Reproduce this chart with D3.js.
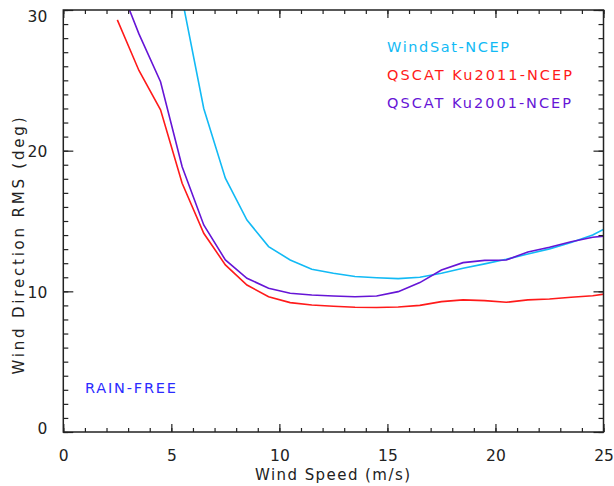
<!DOCTYPE html>
<html><head><meta charset="utf-8">
<script src="https://cdn.jsdelivr.net/npm/d3@7"></script>
<style>body{margin:0;background:#fff}svg{display:block}text{font-family:"DejaVu Sans",sans-serif;font-weight:normal}</style>
</head><body><svg id="c" width="614" height="486"></svg>
<script>
const windSpeed = [2.5,3.5,4.5,5.5,6.5,7.5,8.5,9.5,10.5,11.5,12.5,13.5,14.5,15.5,16.5,17.5,18.5,19.5,20.5,21.5,22.5,23.5,24.5,25.5];
const windsat  = [null,null,42,30.8,23.0,18.04,15.07,13.18,12.23,11.57,11.28,11.05,10.97,10.90,11.0,11.28,11.64,11.95,12.28,12.66,13.02,13.47,14.0,14.8];
const ku2011   = [29.3,25.7,22.9,17.68,14.13,11.88,10.45,9.62,9.2,9.03,8.94,8.87,8.85,8.89,9.0,9.27,9.39,9.34,9.22,9.39,9.46,9.58,9.69,9.9];
const ku2001   = [32.2,28.3,24.9,18.86,14.72,12.23,10.93,10.22,9.86,9.74,9.67,9.62,9.67,9.98,10.62,11.52,12.04,12.2,12.23,12.8,13.13,13.53,13.84,14.0];
const seriesNames = ["WindSat-NCEP","QSCAT Ku2011-NCEP","QSCAT Ku2001-NCEP"];
const xTicks = [0,5,10,15,20,25];
const yTicks = [0,10,20,30];

const svg = d3.select("#c");
const L=63.3,R=603.5,T=10,B=432;
const x = d3.scaleLinear().domain([0,25]).range([L,R]);
const y = d3.scaleLinear().domain([0,30]).range([B,T]);
const colors = ["#12baf5","#ff1a1a","#6615d6"];

svg.append("clipPath").attr("id","clip").append("rect").attr("x",L).attr("y",T).attr("width",R-L).attr("height",B-T);

const line = d3.line().defined(d=>d[1]!=null).x(d=>x(d[0])).y(d=>y(d[1]));
[windsat,ku2011,ku2001].forEach((s,i)=>{
  svg.append("path").attr("clip-path","url(#clip)")
    .datum(windSpeed.map((w,j)=>[w,s[j]]))
    .attr("d",line).attr("fill","none").attr("stroke",colors[i]).attr("stroke-width",1.6);
});

const axCol="#222";
function styleAx(g){g.select(".domain").remove();g.selectAll("line").attr("stroke",axCol).attr("stroke-width",1.2);}
const xMinor = d3.range(0,26,1), yMinor = d3.range(0,31,1);
// bottom
svg.append("g").attr("transform",`translate(0,${B})`).call(d3.axisBottom(x).tickValues(xMinor).tickSize(-4).tickFormat("")).call(styleAx);
svg.append("g").attr("transform",`translate(0,${B})`).call(d3.axisBottom(x).tickValues(xTicks).tickSize(-8).tickFormat(d3.format("d")).tickPadding(18)).call(styleAx)
  .selectAll("text").attr("font-size",15.5).attr("fill","#222").attr("font-family","DejaVu Sans");
// top
svg.append("g").attr("transform",`translate(0,${T})`).call(d3.axisTop(x).tickValues(xMinor).tickSize(-4).tickFormat("")).call(styleAx);
svg.append("g").attr("transform",`translate(0,${T})`).call(d3.axisTop(x).tickValues(xTicks).tickSize(-8).tickFormat("")).call(styleAx);
// left
svg.append("g").attr("transform",`translate(${L},0)`).call(d3.axisLeft(y).tickValues(yMinor).tickSize(-5).tickFormat("")).call(styleAx);
svg.append("g").attr("transform",`translate(${L},0)`).call(d3.axisLeft(y).tickValues(yTicks).tickSize(-10).tickFormat(d3.format("d")).tickPadding(16)).call(styleAx)
  .selectAll("text").attr("font-size",15.5).attr("fill","#222").attr("font-family","DejaVu Sans").attr("dy",d=>d===30?"0.75em":d===0?"0.1em":"0.4em");
// right
svg.append("g").attr("transform",`translate(${R},0)`).call(d3.axisRight(y).tickValues(yMinor).tickSize(-5).tickFormat("")).call(styleAx);
svg.append("g").attr("transform",`translate(${R},0)`).call(d3.axisRight(y).tickValues(yTicks).tickSize(-10).tickFormat("")).call(styleAx);
// frame
svg.append("rect").attr("x",L).attr("y",T).attr("width",R-L).attr("height",B-T).attr("fill","none").attr("stroke",axCol).attr("stroke-width",1.5);

// titles
svg.append("text").attr("x",332.5).attr("y",480).attr("text-anchor","middle").attr("font-size",15).attr("fill","#222")
  .attr("textLength",155).attr("lengthAdjust","spacing").text("Wind Speed (m/s)");
svg.append("text").attr("transform","translate(24,246) rotate(-90)").attr("text-anchor","middle").attr("font-size",15).attr("fill","#222")
  .attr("textLength",257).attr("lengthAdjust","spacing").text("Wind Direction RMS (deg)");

// legend
const legY=[51.5,80,108], legW=[122,185,184];
seriesNames.forEach((n,i)=>{
  svg.append("text").attr("x",387).attr("y",legY[i]).attr("font-size",14.5).attr("fill",colors[i])
    .attr("textLength",legW[i]).attr("lengthAdjust","spacing").text(n);
});
svg.append("text").attr("x",85).attr("y",392.5).attr("font-size",14.5).attr("fill","#2b2bff")
  .attr("textLength",91).attr("lengthAdjust","spacing").text("RAIN-FREE");
</script></body></html>
